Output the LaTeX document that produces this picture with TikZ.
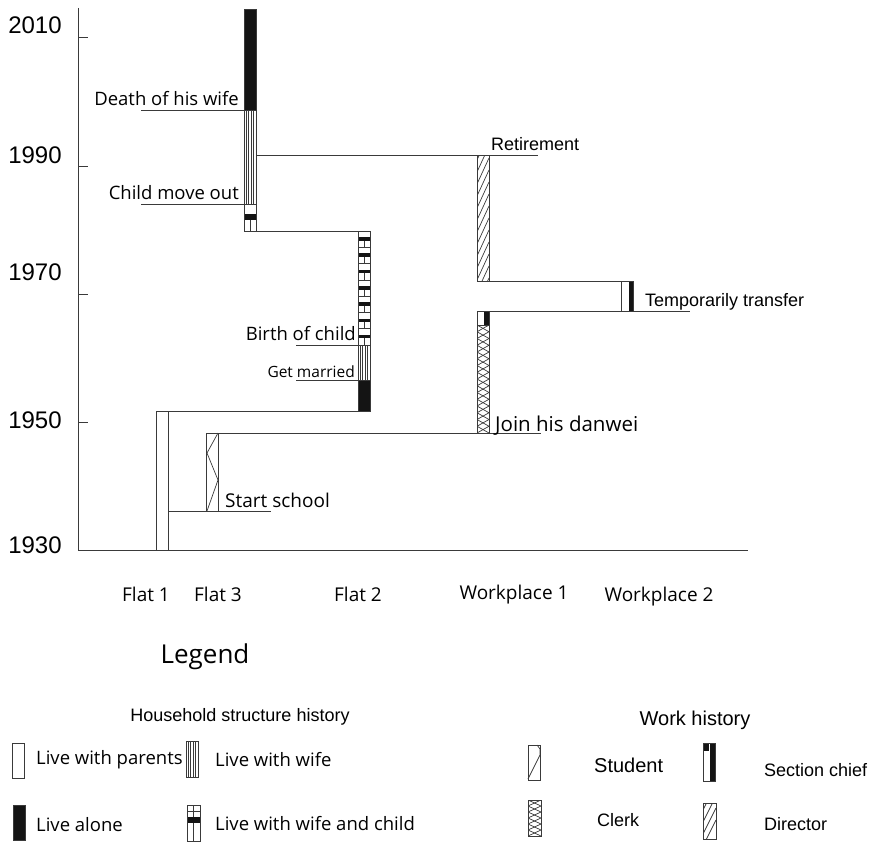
\documentclass[tikz,border=0pt]{standalone}
\usepackage{fontspec}
\setmainfont{Open Sans}
\newfontfamily\arialfont{Liberation Sans}
\usetikzlibrary{positioning}
\definecolor{linecol}{HTML}{3A3A3A}
\definecolor{inkcol} {HTML}{141414}
\tikzset{
  linkline/.style={draw=linecol, line width=1pt},
  barbox/.style={draw=linecol, line width=1pt, fill=white},
  solidbox/.style={draw=linecol, line width=1pt, fill=inkcol},
  hatchline/.style={draw=linecol, line width=0.7pt},
  yearlbl/.style={font=\arialfont\fontsize{24}{24}\selectfont, inner sep=0pt},
  evtlbl/.style={font=\fontsize{18.5}{18.5}\selectfont, inner sep=0pt},
  evtlblb/.style={font=\arialfont\fontsize{18}{18}\selectfont, inner sep=0pt},
  collbl/.style={font=\fontsize{19}{19}\selectfont, inner sep=0pt},
  leglbl/.style={font=\fontsize{18.5}{18.5}\selectfont, inner sep=0pt, anchor=west},
  legwlbl/.style={font=\arialfont\fontsize{18}{18}\selectfont, inner sep=0pt, anchor=west},
}
% live with wife: vertical stripes
\newcommand{\wifebar}[3]{%
  \draw[barbox] (#1,#2) rectangle (#1+12,#3);
  \foreach \k in {1,...,4} \draw[hatchline] (#1+2.4*\k,#2) -- (#1+2.4*\k,#3);
  \draw[linecol, line width=1pt] (#1,#2) rectangle (#1+12,#3);
}
% live with wife and child: #4 units
\newcommand{\childbar}[4]{%
  \draw[barbox] (#1,#2) rectangle (#1+12,#3);
  \pgfmathsetmacro{\unith}{(#3-#2)/#4}
  \foreach \k in {1,...,#4}{
    \pgfmathsetmacro{\ua}{#2+(\k-1)*\unith}
    \fill[inkcol] (#1,\ua+0.38*\unith) rectangle (#1+12,\ua+0.6*\unith);
    \draw[hatchline] (#1+6,\ua+0.6*\unith) -- (#1+6,\ua+\unith);
    \draw[hatchline] (#1,\ua+\unith) -- (#1+12,\ua+\unith);
  }
  \draw[linecol, line width=1pt] (#1,#2) rectangle (#1+12,#3);
}

\begin{document}
\begin{tikzpicture}[x=1pt, y=-1pt]
  \useasboundingbox (0,0) rectangle (873,843);

  % time axis
  \coordinate (axtop) at (78,8);
  \coordinate (axorig) at (78,550);
  \coordinate (axend) at (748,550);
  \draw[linkline] (axtop) -- (axorig) -- (axend);
  \foreach \yy in {38,166,294,422} \draw[linkline] (78,\yy) -- (88,\yy);
  \node[yearlbl] (y2010) at (35,25)  {2010};
  \node[yearlbl] (y1990) at (35,155) {1990};
  \node[yearlbl] (y1970) at (35,272) {1970};
  \node[yearlbl] (y1950) at (35,420) {1950};
  \node[yearlbl] (y1930) at (35,545) {1930};

  % end points of the moves
  \coordinate (flatA) at (156,411);
  \coordinate (flatBbot) at (370,411);
  \coordinate (flatCbot) at (244,231);
  \coordinate (flatBtop) at (370,231);
  \coordinate (flatCret) at (256,155);
  \coordinate (retend) at (538,155);
  \coordinate (workAdir) at (477,281);
  \coordinate (workBtop) at (633,281);
  \coordinate (workAchief) at (477,311);
  \coordinate (transend) at (690,311);
  \coordinate (schooltop) at (206,433);
  \coordinate (joinend) at (541,433);
  \coordinate (flatAschool) at (168,511);
  \coordinate (schoolend) at (271,511);
  \draw[linkline] (flatA) -- (flatBbot);
  \draw[linkline] (flatCbot) -- (flatBtop);
  \draw[linkline] (flatCret) -- (retend);
  \draw[linkline] (workAdir) -- (workBtop);
  \draw[linkline] (workAchief) -- (transend);
  \draw[linkline] (schooltop) -- (joinend);
  \draw[linkline] (flatAschool) -- (schoolend);

  % event underlines
  \coordinate (deathL) at (141,110);
  \coordinate (deathR) at (256,110);
  \coordinate (moveL) at (141,204);
  \coordinate (moveR) at (256,204);
  \coordinate (birthL) at (296,345);
  \coordinate (birthR) at (370,345);
  \coordinate (marryL) at (296,380);
  \coordinate (marryR) at (370,380);
  \draw[linkline] (deathL) -- (deathR);
  \draw[linkline] (moveL) -- (moveR);
  \draw[linkline] (birthL) -- (birthR);
  \draw[linkline] (marryL) -- (marryR);

  % Flat 1
  \draw[barbox] (156,411) rectangle (168,550);
  % Flat 3, school years
  \draw[barbox] (206,433) rectangle (218,511);
  \draw[hatchline] (218,433) -- (207,453) -- (218,480) -- (207,511);
  % Flat 3, later years
  \draw[solidbox] (244,10) rectangle (256,110);
  \wifebar{244}{110}{204}
  \childbar{244}{204}{231}{1}
  % Flat 2
  \childbar{358}{231}{345}{7}
  \wifebar{358}{345}{380}
  \draw[solidbox] (358,380) rectangle (370,411);

  % Workplace 1
  \draw[barbox] (477,325) rectangle (489,433);
  \begin{scope}
    \clip (477,325) rectangle (489,433);
    \foreach \k in {0,...,7} {
      \draw[hatchline] (477,325+13.5*\k) -- (489,331.75+13.5*\k) -- (477,338.5+13.5*\k);
      \draw[hatchline] (489,325+13.5*\k) -- (477,331.75+13.5*\k) -- (489,338.5+13.5*\k);
    }
  \end{scope}
  \draw[linecol, line width=1pt] (477,325) rectangle (489,433);
  \draw[barbox] (477,311) rectangle (489,325);
  \fill[inkcol] (484,311) rectangle (489,325);
  \draw[linecol, line width=1pt] (477,311) rectangle (489,325);
  \draw[barbox] (477,155) rectangle (489,281);
  \begin{scope}
    \clip (477,155) rectangle (489,281);
    \foreach \k in {0,...,13} \draw[hatchline] (477,160+12*\k) -- (489,134+12*\k);
  \end{scope}
  \draw[linecol, line width=1pt] (477,155) rectangle (489,281);
  % Workplace 2
  \draw[barbox] (621,281) rectangle (633,311);
  \fill[inkcol] (629,281) rectangle (633,311);
  \draw[linecol, line width=1pt] (621,281) rectangle (633,311);

  % event labels
  \node[evtlbl, anchor=base east] (death) at (239,105) {Death of his wife};
  \node[evtlbl, anchor=base east] (moveout) at (239,199) {Child move out};
  \node[evtlbl, anchor=base east] (birth) at (356,340) {Birth of child};
  \node[evtlbl, anchor=base east, font=\fontsize{15.5}{15.5}\selectfont] (marry) at (355,377) {Get married};
  \node[evtlblb, anchor=base west] (retire) at (491,150) {Retirement};
  \node[evtlblb, anchor=base west] (transfer) at (645,306) {Temporarily transfer};
  \node[evtlbl, anchor=base west, font=\fontsize{20.5}{20.5}\selectfont] (join) at (495,431) {Join his danwei};
  \node[evtlbl, anchor=base west, font=\fontsize{19}{19}\selectfont] (school) at (225,507) {Start school};

  % places
  \node[collbl, anchor=base] (flat1) at (146,601) {Flat 1};
  \node[collbl, anchor=base] (flat3) at (218,601) {Flat 3};
  \node[collbl, anchor=base] (flat2) at (358,601) {Flat 2};
  \node[collbl, anchor=base] (work1) at (514,599) {Workplace 1};
  \node[collbl, anchor=base] (work2) at (659,601) {Workplace 2};

  % legend
  \node[font=\fontsize{26}{26}\selectfont, inner sep=0pt] (legend) at (205,657) {Legend};
  \node[font=\arialfont\fontsize{18}{18}\selectfont, inner sep=0pt] (househead) at (240,717) {Household structure history};
  \node[font=\arialfont\fontsize{20}{20}\selectfont, inner sep=0pt] (workhead) at (695,720) {Work history};

  \draw[barbox] (12,743) rectangle (24,778);
  \node[leglbl] (lparents) at (36,760) {Live with parents};
  \wifebar{186}{741}{777}
  \node[leglbl] (lwife) at (215,760) {Live with wife};
  \draw[solidbox] (13,805) rectangle (25,840);
  \node[leglbl] (lalone) at (36,825) {Live alone};
  \draw[barbox] (187,805) rectangle (200,841);
  \draw[hatchline] (187,811) -- (200,811);
  \draw[hatchline] (193.5,805) -- (193.5,817);
  \fill[inkcol] (187,817) rectangle (200,823);
  \draw[hatchline] (193.5,823) -- (193.5,841);
  \draw[linecol, line width=1pt] (187,805) rectangle (200,841);
  \node[leglbl] (lchild) at (215,824) {Live with wife and child};

  \draw[barbox] (528,745) rectangle (540,780);
  \draw[hatchline] (528,779) -- (540,755) -- (540,749) -- (537,745);
  \node[legwlbl, font=\arialfont\fontsize{20}{20}\selectfont] (lstudent) at (594,765) {Student};
  \draw[barbox] (703,743) rectangle (715,781);
  \fill[inkcol] (703,743) rectangle (709,751);
  \fill[inkcol] (710,743) rectangle (715,781);
  \draw[linecol, line width=1pt] (703,743) rectangle (715,781);
  \node[legwlbl] (lchief) at (764,770) {Section chief};
  \draw[barbox] (528,800) rectangle (541,836);
  \begin{scope}
    \clip (528,800) rectangle (541,836);
    \foreach \k in {0,...,2} {
      \draw[hatchline] (528,800+12*\k) -- (541,806+12*\k) -- (528,812+12*\k);
      \draw[hatchline] (541,800+12*\k) -- (528,806+12*\k) -- (541,812+12*\k);
    }
  \end{scope}
  \draw[linecol, line width=1pt] (528,800) rectangle (541,836);
  \node[legwlbl] (lclerk) at (597,820) {Clerk};
  \draw[barbox] (703,803) rectangle (716,839);
  \begin{scope}
    \clip (703,803) rectangle (716,839);
    \foreach \k in {0,...,3} \draw[hatchline] (703,810+12*\k) -- (716,784+12*\k);
  \end{scope}
  \draw[linecol, line width=1pt] (703,803) rectangle (716,839);
  \node[legwlbl] (ldirector) at (764,824) {Director};
\end{tikzpicture}
\end{document}
